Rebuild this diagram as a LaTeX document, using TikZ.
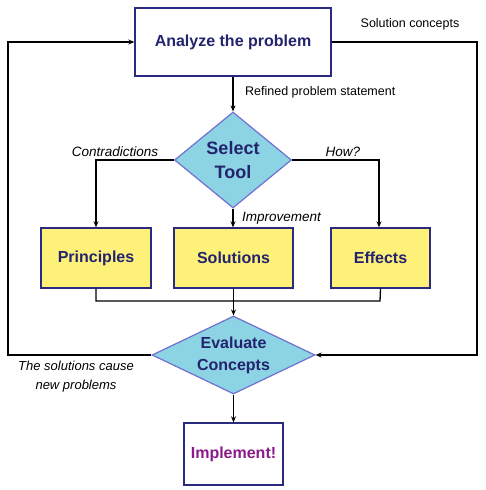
\documentclass[tikz,border=0pt]{standalone}
\usepackage{fontspec}
\setmainfont{Liberation Sans}
\usetikzlibrary{shapes.geometric,arrows.meta}
\definecolor{navy}{HTML}{23236E}
\definecolor{boxedge}{HTML}{2A2A80}
\definecolor{dfill}{HTML}{8CD3E3}
\definecolor{dedge}{HTML}{7070D0}
\definecolor{yfill}{HTML}{FDF17A}
\definecolor{impl}{HTML}{8B1A8B}
\tikzset{
  wbox/.style={draw=boxedge,line width=1.4pt,fill=white,rectangle,inner sep=0pt,font=\fontsize{16}{18}\selectfont\bfseries,text=navy},
  ybox/.style={draw=boxedge,line width=1.4pt,fill=yfill,rectangle,inner sep=0pt,minimum height=60pt,font=\fontsize{16}{18}\selectfont\bfseries,text=navy},
  dnode/.style={draw=dedge,line width=1.2pt,fill=dfill,diamond,inner sep=0pt,align=center,text=navy},
  conn/.style={line width=1.3pt,black},
  arr/.style={conn,-{Stealth[length=6pt,width=5pt]}},
  lbl/.style={font=\fontsize{12.5}{14}\selectfont,inner sep=0pt},
  ilbl/.style={font=\fontsize{13.5}{15}\selectfont\itshape,inner sep=0pt},
}
\begin{document}
\begin{tikzpicture}[x=1pt,y=-1pt]
\useasboundingbox (0,0) rectangle (485,490);
\node[wbox,minimum width=196pt,minimum height=68pt] (analyze) at (233,42) {Analyze the problem};
\node[dnode,minimum width=117pt,minimum height=96pt,aspect=1.22,font=\fontsize{18}{24}\selectfont\bfseries] (select) at (233,160) {Select\\Tool};
\node[ybox,minimum width=110pt] (princ) at (96,258) {Principles};
\node[ybox,minimum width=119pt] (sol) at (233.5,258) {Solutions};
\node[ybox,minimum width=99pt] (eff) at (380.5,258) {Effects};
\node[dnode,minimum width=163pt,minimum height=78pt,aspect=2.09,font=\fontsize{16}{22}\selectfont\bfseries] (eval) at (233.5,355) {Evaluate\\Concepts};
\node[wbox,minimum width=99pt,minimum height=62pt,text=impl] (implement) at (233.5,454) {Implement!};

\coordinate (lt) at (8,42);
\coordinate (lb) at (8,355);
\coordinate (rt) at (477,42);
\coordinate (rb) at (477,355);
\coordinate (cl) at (96,160);
\coordinate (cr) at (379,160);
\coordinate (ml) at (96,301);
\coordinate (mr) at (380,301);
\coordinate (mm) at (233.5,301);

\draw[arr] (analyze.south) -- (select.north);
\draw[arr] (select.west) -- (cl) -- (princ.north);
\draw[arr] (select.east) -- (cr) -- (eff.north -| cr);
\draw[arr] (select.south) -- (sol.north -| select.south);
\draw[conn] (princ.south) -- (ml) -- (mr) -- (eff.south);
\draw[conn] (sol.south) -- (mm);
\draw[arr] (mm) -- (eval.north);
\draw[arr] (eval.south) -- (implement.north);
\draw[arr] (eval.west) -- (lb) -- (lt) -- (analyze.west);
\draw[arr] (analyze.east) -- (rt) -- (rb) -- (eval.east);

\node[lbl] (lsol) at (410,24) {Solution concepts};
\node[lbl,anchor=west] (lref) at (245,92) {Refined problem statement};
\node[ilbl] (lcon) at (115,152) {Contradictions};
\node[ilbl] (lhow) at (343,152) {How?};
\node[ilbl,anchor=west] (limp) at (242,218) {Improvement};
\node[ilbl,align=center,font=\fontsize{13}{19}\selectfont\itshape] (lnew) at (76,377) {The solutions cause\\new problems};
\end{tikzpicture}
\end{document}
